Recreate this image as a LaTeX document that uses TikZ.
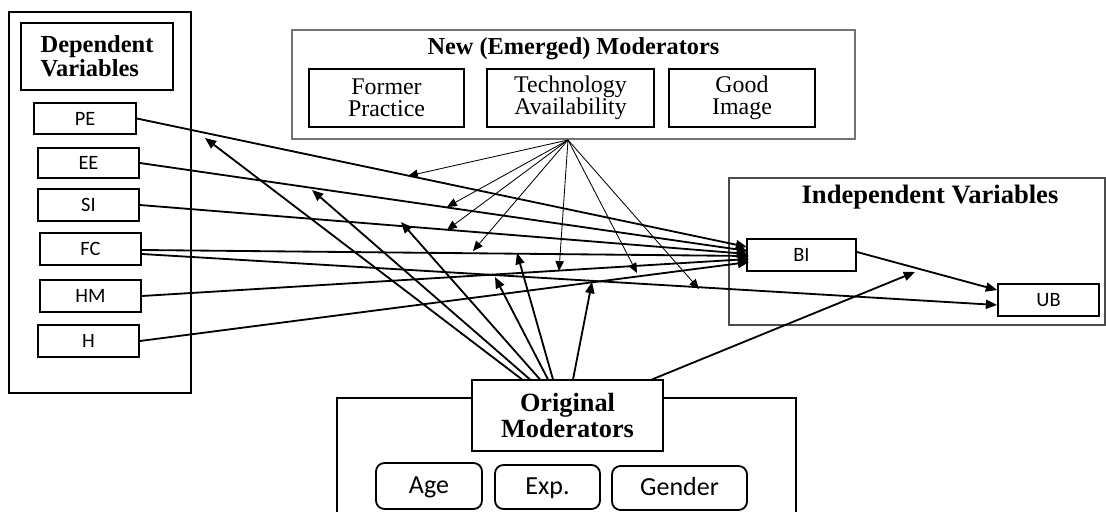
\documentclass[tikz,border=0pt]{standalone}
\usepackage{fontspec}
\setmainfont{Liberation Serif}
\setsansfont{Carlito}
\usetikzlibrary{arrows.meta,calc}
\def\pxu{0.025cm}
\begin{document}
\begin{tikzpicture}[x=0.025cm,y=-0.025cm,
  varbox/.style={draw, line width=1.3pt, inner sep=0pt, font=\sffamily\fontsize{14.5}{16}\selectfont},
  modbox/.style={draw, line width=1.3pt, inner sep=0pt, align=center, font=\fontsize{17}{16}\selectfont},
  rbox/.style={draw, line width=1.3pt, rounded corners=6pt, inner sep=0pt, text depth=0pt, text height=11pt, font=\sffamily\fontsize{18.5}{18}\selectfont},
  grp/.style={draw=black!55, line width=1pt, inner sep=0pt},
  title/.style={anchor=base, inner sep=0pt, font=\bfseries\fontsize{17.3}{17}\selectfont},
  strong/.style={line width=1.3pt, -{Triangle[length=8pt,width=6.5pt]}},
  slim/.style={line width=0.6pt, -{Triangle[length=7pt,width=6pt]}},
]
\useasboundingbox (0,0) rectangle (1106,512);
\fill[white] (0,0) rectangle (1106,512);

% Dependent variables group
\node (depgrp) [draw, line width=1.3pt, inner sep=0pt, minimum width=182*\pxu, minimum height=381*\pxu] at (100,202.5) {};
\node (DV) [draw, line width=1.3pt, inner sep=0pt, minimum width=152*\pxu, minimum height=67*\pxu, align=left, font=\bfseries\fontsize{17.4}{17}\selectfont] at (97,56.5) {Dependent\\Variables};
\node (PE) [varbox, minimum width=102*\pxu, minimum height=31*\pxu] at (85,118.5) {PE};
\node (EE) [varbox, minimum width=101*\pxu, minimum height=30*\pxu] at (88.5,163) {EE};
\node (SI) [varbox, minimum width=101*\pxu, minimum height=32*\pxu] at (88.5,205) {SI};
\node (FC) [varbox, minimum width=101*\pxu, minimum height=32*\pxu] at (90.5,249) {FC};
\node (HM) [varbox, minimum width=101*\pxu, minimum height=32*\pxu] at (90.5,296) {HM};
\node (H)  [varbox, minimum width=101*\pxu, minimum height=32*\pxu] at (88.5,341) {H};

% New moderators group
\node (NM) [grp, minimum width=563*\pxu, minimum height=109*\pxu] at (573.5,84.5) {};
\node (NMt) [title] at (573.5,55) {New (Emerged) Moderators};
\node (FP) [modbox, minimum width=155*\pxu, minimum height=58*\pxu] at (386.5,98) {Former\\Practice};
\node (TA) [modbox, minimum width=167*\pxu, minimum height=58*\pxu] at (570.5,98) {Technology\\Availability};
\node (GI) [modbox, minimum width=146*\pxu, minimum height=58*\pxu] at (742,98) {Good\\Image};

% Independent variables group
\node (IV) [grp, draw=black!70, minimum width=376*\pxu, minimum height=147*\pxu] at (917,251.5) {};
\node (IVt) [title, font=\bfseries\fontsize{18.9}{18}\selectfont] at (930,203) {Independent Variables};
\node (BI) [varbox, minimum width=109*\pxu, minimum height=32*\pxu, text width=92*\pxu, align=center] at (801.5,255) {BI};
\node (UB) [varbox, minimum width=101*\pxu, minimum height=32*\pxu] at (1048.5,300) {UB};

% Original moderators group
\draw[line width=0.8pt] (337,515) -- (337,398) -- (796,398) -- (796,515);
\node (OM) [draw, line width=0.8pt, fill=white, inner sep=0pt, align=center, minimum width=191*\pxu, minimum height=71*\pxu, font=\bfseries\fontsize{18.7}{18.5}\selectfont] at (567.5,415.5) {Original\\Moderators};
\node (Age) [rbox, minimum width=106*\pxu, minimum height=46*\pxu] at (429,486) {Age};
\node (Exp) [rbox, minimum width=105*\pxu, minimum height=44*\pxu] at (547.5,487) {Exp.};
\node (Gen) [rbox, minimum width=135*\pxu, minimum height=44*\pxu] at (679.5,488) {Gender};

% variables to BI / UB
\draw[strong] (PE.east) -- ($(BI.west)+(1,-8)$);
\draw[strong] (EE.east) -- ($(BI.west)+(2,-4)$);
\draw[strong] (SI.east) -- ($(BI.west)+(2,-1)$);
\draw[strong] ($(FC.east)+(0,1)$) -- ($(BI.west)+(3,1)$);
\draw[strong] ($(FC.east)+(0,5)$) -- ($(UB.west)+(0,5)$);
\draw[strong] (HM.east) -- ($(BI.west)+(3,4)$);
\draw[strong] (H.east) -- ($(BI.west)+(3,7)$);
\draw[strong] ($(BI.east)+(0,-3)$) -- ($(UB.west)+(0,-10)$);

% new moderators hub
\coordinate (hub) at (568,140);
\coordinate (t1) at (408,176);
\coordinate (t2) at (447,207);
\coordinate (t3) at (447,230);
\coordinate (t4) at (473,251);
\coordinate (t5) at (559,271);
\coordinate (t6) at (637,273);
\coordinate (t7) at (699,289);
\foreach \t in {t1,t2,t3,t4,t5,t6,t7} \draw[slim] (hub) -- (\t);

% original moderators arrows
\coordinate (oa) at (205,138);
\coordinate (ob) at (312,190);
\coordinate (oc) at (401,222);
\coordinate (oe) at (495,277);
\coordinate (of) at (517,253);
\coordinate (og) at (592,282);
\coordinate (oh) at (915,272);
\draw[strong] ($(OM.north)+(-45.5,0)$) -- (oa);
\draw[strong] ($(OM.north)+(-37.5,0)$) -- (ob);
\draw[strong] ($(OM.north)+(-27.5,0)$) -- (oc);
\draw[strong] ($(OM.north)+(-19.5,0)$) -- (oe);
\draw[strong] ($(OM.north)+(-14.5,0)$) -- (of);
\draw[strong] ($(OM.north)+(5.5,0)$) -- (og);
\draw[strong] ($(OM.north)+(84.5,0)$) -- (oh);
\end{tikzpicture}
\end{document}
